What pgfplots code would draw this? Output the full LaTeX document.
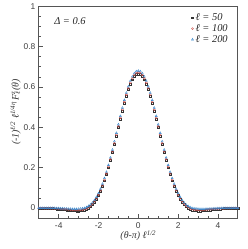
\documentclass[border=0pt]{standalone}
\usepackage{fontspec}
\setmainfont{Liberation Serif}
\setsansfont{Liberation Sans}
\usepackage{pgfplots}
\pgfplotsset{compat=1.18}
\usepackage{pgfplotstable}
\definecolor{axgray}{RGB}{85,85,85}
\definecolor{myred}{RGB}{205,80,75}
\definecolor{myblue}{RGB}{55,135,205}
\pgfplotstableread{
x a b c
-5.0 -0.0005 0.000 0.000
-4.9 -0.0006 0.000 0.000
-4.8 -0.0008 0.000 0.000
-4.7 -0.0010 -0.001 0.000
-4.6 -0.0013 -0.001 0.000
-4.5 -0.0017 -0.001 0.000
-4.4 -0.0021 -0.001 0.000
-4.3 -0.0026 -0.002 0.000
-4.2 -0.0033 -0.002 0.000
-4.1 -0.0040 -0.002 -0.001
-4.0 -0.0048 -0.003 -0.001
-3.9 -0.0057 -0.004 -0.002
-3.8 -0.0068 -0.004 -0.002
-3.7 -0.0080 -0.005 -0.003
-3.6 -0.0092 -0.006 -0.003
-3.5 -0.0104 -0.007 -0.004
-3.4 -0.0116 -0.008 -0.004
-3.3 -0.0127 -0.009 -0.005
-3.2 -0.0136 -0.010 -0.005
-3.1 -0.0142 -0.010 -0.005
-3.0 -0.0142 -0.010 -0.004
-2.9 -0.0136 -0.009 -0.003
-2.8 -0.0122 -0.008 -0.002
-2.7 -0.0096 -0.005 0.000
-2.6 -0.0056 -0.002 0.004
-2.5 0.0000 0.004 0.010
-2.4 0.0075 0.011 0.017
-2.3 0.0173 0.021 0.027
-2.2 0.0295 0.033 0.039
-2.1 0.0445 0.048 0.055
-2.0 0.0624 0.066 0.073
-1.9 0.0835 0.088 0.095
-1.8 0.1078 0.112 0.120
-1.7 0.1354 0.140 0.148
-1.6 0.1661 0.171 0.179
-1.5 0.1998 0.205 0.213
-1.4 0.2363 0.242 0.250
-1.3 0.2750 0.281 0.289
-1.2 0.3155 0.321 0.330
-1.1 0.3571 0.363 0.372
-1.0 0.3992 0.405 0.414
-0.9 0.4409 0.447 0.456
-0.8 0.4814 0.488 0.497
-0.7 0.5198 0.526 0.535
-0.6 0.5553 0.562 0.571
-0.5 0.5870 0.594 0.602
-0.4 0.6141 0.621 0.630
-0.3 0.6359 0.643 0.651
-0.2 0.6519 0.659 0.667
-0.1 0.6617 0.669 0.677
0.0 0.6650 0.672 0.680
0.1 0.6617 0.669 0.677
0.2 0.6519 0.659 0.667
0.3 0.6359 0.643 0.651
0.4 0.6141 0.621 0.630
0.5 0.5870 0.594 0.602
0.6 0.5553 0.562 0.571
0.7 0.5198 0.526 0.535
0.8 0.4814 0.488 0.497
0.9 0.4409 0.447 0.456
1.0 0.3992 0.405 0.414
1.1 0.3571 0.363 0.372
1.2 0.3155 0.321 0.330
1.3 0.2750 0.281 0.289
1.4 0.2363 0.242 0.250
1.5 0.1998 0.205 0.213
1.6 0.1661 0.171 0.179
1.7 0.1354 0.140 0.148
1.8 0.1078 0.112 0.120
1.9 0.0835 0.088 0.095
2.0 0.0624 0.066 0.073
2.1 0.0445 0.048 0.055
2.2 0.0295 0.033 0.039
2.3 0.0173 0.021 0.027
2.4 0.0075 0.011 0.017
2.5 0.0000 0.004 0.010
2.6 -0.0056 -0.002 0.004
2.7 -0.0096 -0.005 0.000
2.8 -0.0122 -0.008 -0.002
2.9 -0.0136 -0.009 -0.003
3.0 -0.0142 -0.010 -0.004
3.1 -0.0142 -0.010 -0.005
3.2 -0.0136 -0.010 -0.005
3.3 -0.0127 -0.009 -0.005
3.4 -0.0116 -0.008 -0.004
3.5 -0.0104 -0.007 -0.004
3.6 -0.0092 -0.006 -0.003
3.7 -0.0080 -0.005 -0.003
3.8 -0.0068 -0.004 -0.002
3.9 -0.0057 -0.004 -0.002
4.0 -0.0048 -0.003 -0.001
4.1 -0.0040 -0.002 -0.001
4.2 -0.0033 -0.002 0.000
4.3 -0.0026 -0.002 0.000
4.4 -0.0021 -0.001 0.000
4.5 -0.0017 -0.001 0.000
4.6 -0.0013 -0.001 0.000
4.7 -0.0010 -0.001 0.000
4.8 -0.0008 0.000 0.000
4.9 -0.0006 0.000 0.000
5.0 -0.0005 0.000 0.000
}\tabData
\begin{document}
\begin{tikzpicture}
\begin{axis}[
  scale only axis,
  width=200bp, height=213bp,
  xmin=-5, xmax=5, ymin=-0.05, ymax=1,
  xtick={-4,-2,0,2,4},
  ytick={0,0.2,0.4,0.6,0.8,1},
  minor x tick num=3,
  minor y tick num=3,
  xtick pos=bottom, ytick pos=left,
  tick align=inside,
  major tick length=4bp, minor tick length=2bp,
  axis line style={axgray, line width=1.1pt},
  tick style={axgray, line width=0.6pt},
  /pgf/number format/assume math mode=true,
  ticklabel style={font=\sffamily\fontsize{8.5}{10}\selectfont, text=black!75},
  xticklabel style={yshift=-1bp},
  label style={font=\itshape\fontsize{10}{12}\selectfont, text=black!80},
  xlabel={(θ-π) ℓ\textsuperscript{1/2}},
  ylabel={(-1)\textsuperscript{ℓ/2} ℓ\textsuperscript{1/4η}\,F\rlap{\textsuperscript{z}}\textsubscript{ℓ}(θ)},
  xlabel style={yshift=5bp},
  ylabel style={yshift=-4bp},
  legend style={at={(rel axis cs:0.975,0.985)}, anchor=north east, draw=none, fill=none,
    font=\itshape\fontsize{10.5}{12}\selectfont, row sep=-1.5bp, text=black!85},
  legend cell align=left,
]
\addplot[only marks, mark=square, mark size=0.9pt, black!80, line width=0.4pt] table[x=x, y=a] {\tabData};
\addlegendentry{ℓ = 50}
\addplot[only marks, mark=o, mark size=1.0pt, myred, line width=0.4pt] table[x=x, y=b] {\tabData};
\addlegendentry{ℓ = 100}
\addplot[only marks, mark=triangle, mark size=1.2pt, myblue, line width=0.4pt] table[x=x, y=c] {\tabData};
\addlegendentry{ℓ = 200}
\node[anchor=west, font=\itshape\fontsize{10.5}{12}\selectfont, text=black!85] at (rel axis cs:0.06,0.93) {Δ = 0.6};
\end{axis}
\path (current axis.south west) ++(-39bp,-31bp) (current axis.north east) ++(10bp,5bp);
\end{tikzpicture}
\end{document}
